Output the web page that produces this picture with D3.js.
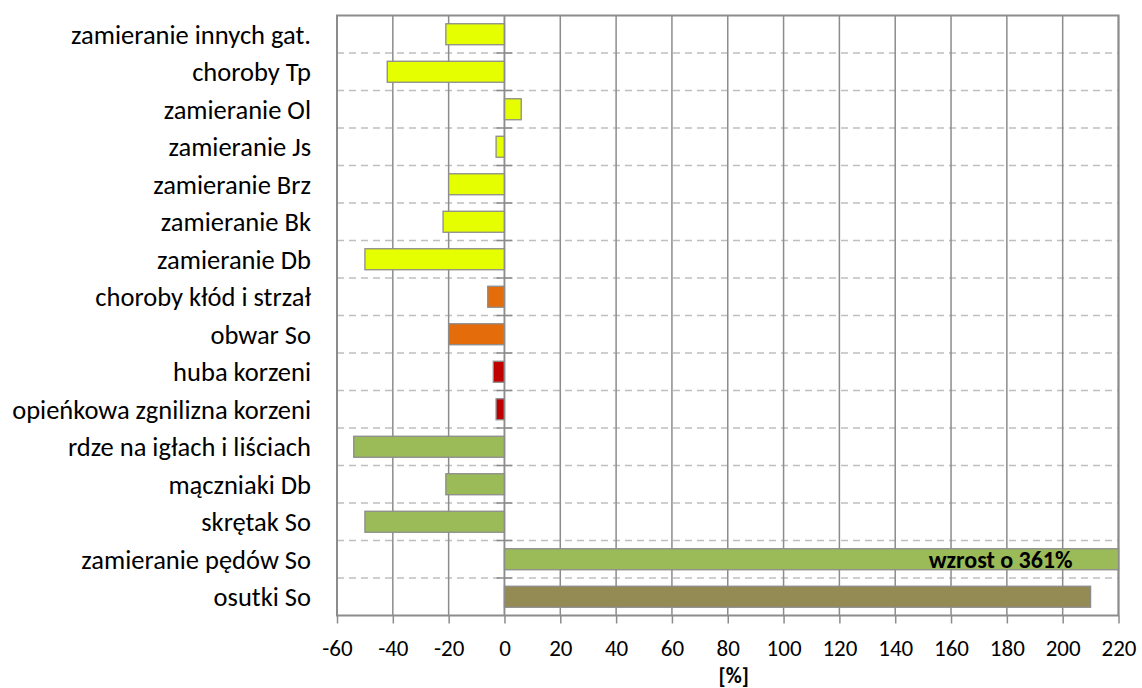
<!DOCTYPE html>
<html>
<head>
<meta charset="utf-8">
<script src="https://cdn.jsdelivr.net/npm/d3@7"></script>
<style>
  html, body { margin: 0; padding: 0; background: #ffffff; }
  svg { display: block; }
  text { font-family: Carlito, Lato, "Open Sans", sans-serif; fill: #000; }
</style>
</head>
<body>
<svg id="chart" width="1142" height="688"></svg>
<script>
// ---- data ----
const categories = [
  "zamieranie innych gat.",
  "choroby Tp",
  "zamieranie Ol",
  "zamieranie Js",
  "zamieranie Brz",
  "zamieranie Bk",
  "zamieranie Db",
  "choroby kłód i strzał",
  "obwar So",
  "huba korzeni",
  "opieńkowa zgnilizna korzeni",
  "rdze na igłach i liściach",
  "mączniaki Db",
  "skrętak So",
  "zamieranie pędów So",
  "osutki So"
];
const values = [-21, -42, 6, -3, -20, -22, -50, -6, -20, -4, -3, -54, -21, -50, 361, 210];
const groups = ["yellow", "yellow", "yellow", "yellow", "yellow", "yellow", "yellow",
                "orange", "orange", "red", "red",
                "green", "green", "green", "green", "olive"];
const groupColors = { yellow: "#e6ff00", orange: "#e46c0a", red: "#c00000", green: "#9bbb59", olive: "#948a54" };
const xTicks = [-60, -40, -20, 0, 20, 40, 60, 80, 100, 120, 140, 160, 180, 200, 220];
const xDomain = [-60, 220];
const axisTitle = "[%]";
const barNote = { category: "zamieranie pędów So", text: "wzrost o 361%" };

// ---- layout ----
const W = 1142, H = 688;
const margin = { top: 15.5, right: 23.5, bottom: 72.5, left: 337 };
const iw = W - margin.left - margin.right;
const ih = H - margin.top - margin.bottom;

const svg = d3.select("#chart");
const g = svg.append("g").attr("transform", `translate(${margin.left},${margin.top})`);

const x = d3.scaleLinear().domain(xDomain).range([0, iw]).clamp(true);
const y = d3.scaleBand().domain(categories).range([0, ih]).paddingInner(0.44).paddingOuter(0.22);
const band = d3.scaleBand().domain(categories).range([0, ih]);

// horizontal dashed separators between rows
g.append("g").selectAll("line")
  .data(categories.slice(1))
  .join("line")
  .attr("x1", 0).attr("x2", iw)
  .attr("y1", d => band(d)).attr("y2", d => band(d))
  .attr("stroke", "#bfbfbf").attr("stroke-width", 1.6)
  .attr("stroke-dasharray", "7,5");

// vertical gridlines
g.append("g").selectAll("line")
  .data(xTicks)
  .join("line")
  .attr("x1", d => x(d)).attr("x2", d => x(d))
  .attr("y1", 0).attr("y2", ih)
  .attr("stroke", "#8c8c8c").attr("stroke-width", 1.5);

// frame
g.append("rect").attr("x", 0).attr("y", 0).attr("width", iw).attr("height", ih)
  .attr("fill", "none").attr("stroke", "#8c8c8c").attr("stroke-width", 2);

// bars
g.append("g").selectAll("rect")
  .data(categories.map((c, i) => ({ c, v: values[i], grp: groups[i] })))
  .join("rect")
  .attr("x", d => x(Math.min(0, d.v)))
  .attr("width", d => Math.abs(x(d.v) - x(0)))
  .attr("y", d => y(d.c))
  .attr("height", y.bandwidth())
  .attr("fill", d => groupColors[d.grp])
  .attr("stroke", "#8c8c8c").attr("stroke-width", 1.3);

// category axis at zero with cross ticks
const catAxis = g.append("g").attr("transform", `translate(${x(0)},0)`);
catAxis.append("line").attr("x1", 0).attr("x2", 0).attr("y1", 0).attr("y2", ih)
  .attr("stroke", "#8c8c8c").attr("stroke-width", 1.5);
catAxis.selectAll("line.tk")
  .data(categories.slice(1))
  .join("line").attr("class", "tk")
  .attr("x1", -8).attr("x2", 8)
  .attr("y1", d => band(d)).attr("y2", d => band(d))
  .attr("stroke", "#8c8c8c").attr("stroke-width", 1.5);

// category labels
g.append("g").selectAll("text")
  .data(categories)
  .join("text")
  .attr("x", -26)
  .attr("y", d => band(d) + band.bandwidth() / 2)
  .attr("dy", "0.36em")
  .attr("text-anchor", "end")
  .style("font-size", "26.5px")
  .text(d => d);

// x axis
const xAxis = d3.axisBottom(x).tickValues(xTicks).tickSize(8).tickPadding(16).tickFormat(d => String(d));
const xa = g.append("g").attr("transform", `translate(0,${ih})`).call(xAxis);
xa.select(".domain").remove();
xa.selectAll(".tick line").attr("stroke", "#8c8c8c").attr("stroke-width", 1.5);
xa.selectAll(".tick text").style("font-size", "23px").style("font-family", "Carlito, Lato, sans-serif").attr("fill", "#000");

// axis title
g.append("text")
  .attr("x", x(80) + 6)
  .attr("y", ih + 67)
  .attr("text-anchor", "middle")
  .style("font-size", "22px").style("font-weight", "bold")
  .text(axisTitle);

// bar note
g.append("text")
  .attr("x", x(xDomain[1]) - 46)
  .attr("y", y(barNote.category) + y.bandwidth() / 2)
  .attr("dy", "0.36em")
  .attr("text-anchor", "end")
  .style("font-size", "24px").style("font-weight", "bold")
  .text(barNote.text);
</script>
</body>
</html>
